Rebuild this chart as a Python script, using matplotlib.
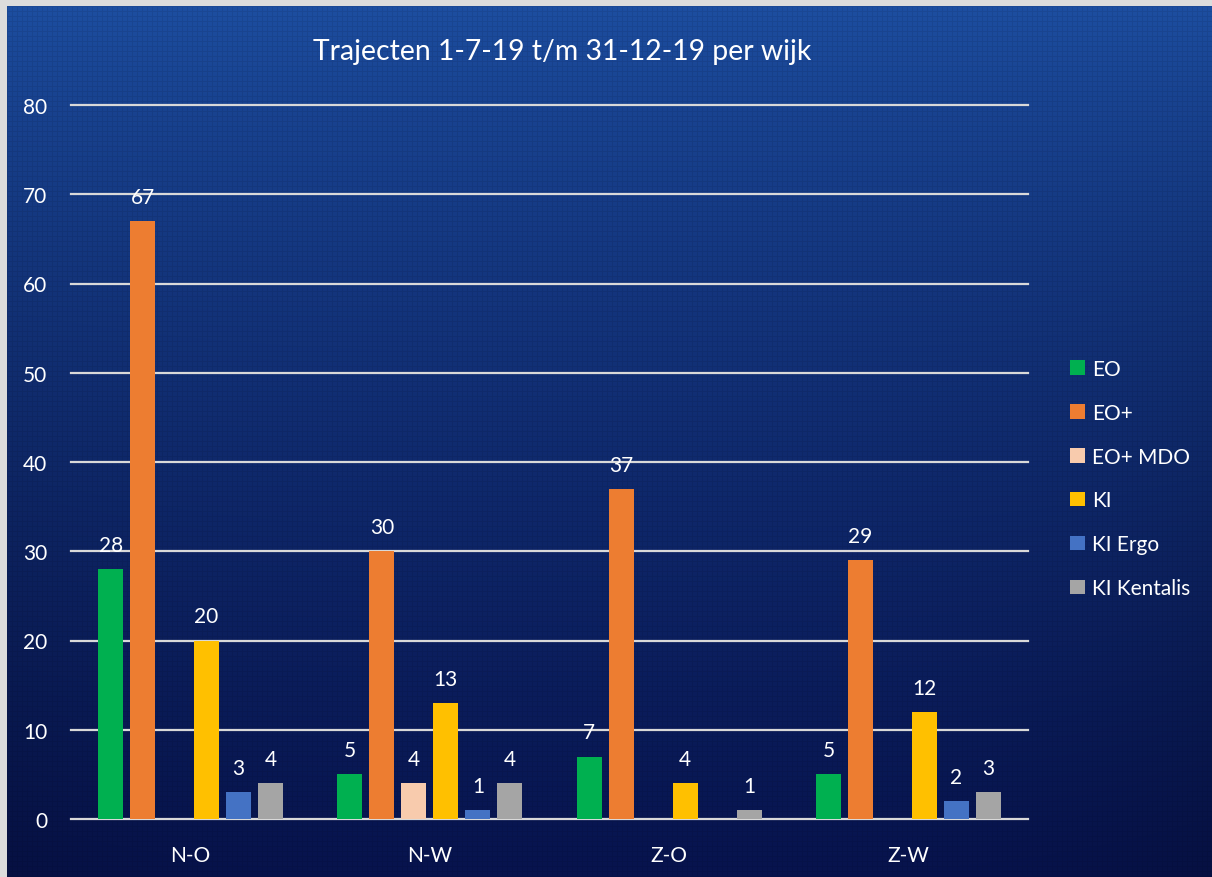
import numpy as np
import matplotlib
matplotlib.use("Agg")
import matplotlib.pyplot as plt
from matplotlib.patches import Patch

plt.rcParams['font.family'] = ['Lato', 'DejaVu Sans']

categories = ["N-O", "N-W", "Z-O", "Z-W"]
series_names = ["EO", "EO+", "EO+ MDO", "KI", "KI Ergo", "KI Kentalis"]
eo = [28, 5, 7, 5]
eo_plus = [67, 30, 37, 29]
eo_plus_mdo = [0, 4, 0, 0]
ki = [20, 13, 4, 12]
ki_ergo = [3, 1, 0, 2]
ki_kentalis = [4, 4, 1, 3]
series_values = [eo, eo_plus, eo_plus_mdo, ki, ki_ergo, ki_kentalis]
colors = ["#00B050", "#ED7D31", "#F8CBAD", "#FFC000", "#4472C4", "#A5A5A5"]
yticks = [0, 10, 20, 30, 40, 50, 60, 70, 80]
title = "Trajecten 1-7-19 t/m 31-12-19 per wijk"

W, H = 1212, 878
fig = plt.figure(figsize=(W / 100, H / 100), dpi=100)
fig.patch.set_facecolor("#DCDCDC")

# background gradient with subtle texture
bg = fig.add_axes([7 / W, 0, (W - 7) / W, (H - 7) / H])
bg.set_axis_off()
h, w = H - 7, W - 7
yy = np.linspace(0, 1, h)[:, None]
xx = np.linspace(0, 1, w)[None, :]
top = np.array([0x1D, 0x4F, 0xA2]) / 255
bot = np.array([0x07, 0x13, 0x4E]) / 255
t = np.clip(yy ** 0.75, 0, 1)
img = top[None, None, :] * (1 - t[..., None]) + bot[None, None, :] * t[..., None]
img = np.broadcast_to(img, (h, w, 3)).copy()
side = (np.abs(xx - 0.5) * 2) ** 3 * 0.15 * yy
img *= (1 - side[..., None])
ix = np.arange(w)[None, :]
iy = np.arange(h)[:, None]
tex = 1 - 0.08 * ((ix % 5 == 0) | (iy % 5 == 0))
img *= tex[..., None]
bg.imshow(np.clip(img, 0, 1), aspect='auto', extent=[0, 1, 0, 1])

ax = fig.add_axes([71 / W, 58 / H, (1028 - 71) / W, (772 - 58) / H])
ax.set_facecolor("none")
ax.set_xlim(-0.5, 3.5)
ax.set_ylim(0, 80)

x = np.arange(len(categories))
bw = 0.1045
step = 0.1337
for i, (name, vals, c) in enumerate(zip(series_names, series_values, colors)):
    pos = x + (i - 2.5) * step
    bars = ax.bar(pos, vals, width=bw, color=c, label=name, zorder=3)
    for b, v in zip(bars, vals):
        if v > 0:
            ax.annotate(str(v), (b.get_x() + b.get_width() / 2, v),
                        xytext=(0, 13), textcoords='offset points',
                        ha='center', va='baseline', color='white', fontsize=15,
                        zorder=4)

ax.set_yticks(yticks)
ax.set_yticklabels([str(v) for v in yticks])
ax.set_xticks(x)
ax.set_xticklabels(categories)
ax.tick_params(axis='both', length=0, colors='white', labelsize=15)
ax.tick_params(axis='y', pad=17)
ax.tick_params(axis='x', pad=19)
ax.grid(axis='y', color='#D9D9D9', linewidth=1.6, zorder=1)
for gl in ax.get_ygridlines():
    gl.set_clip_on(False)
for s in ax.spines.values():
    s.set_visible(False)

fig.text(562 / W, (H - 52) / H, title, ha='center', va='center',
         color='white', fontsize=20.4)

handles = [Patch(facecolor=c, edgecolor='none') for c in colors]
fig.legend(handles, series_names, loc='center left',
           bbox_to_anchor=(1070 / W, (H - 479.5) / H), frameon=False,
           fontsize=15, labelcolor='white', handlelength=0.7, handleheight=0.7,
           handletextpad=0.35, labelspacing=1.15, borderpad=0, borderaxespad=0)

fig.savefig("out.png", dpi=100, facecolor=fig.get_facecolor())
